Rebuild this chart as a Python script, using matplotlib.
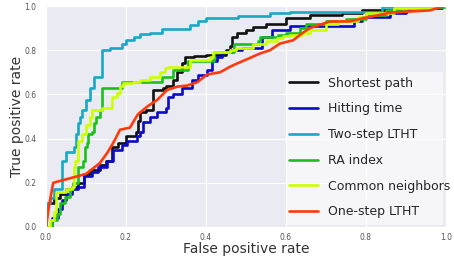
import matplotlib
matplotlib.use('Agg')
import matplotlib.pyplot as plt
import matplotlib.patches as mpatches
import seaborn as sns

# ROC curves: (false positive rate, true positive rate)
sp_fpr = [0, 0, 0.005, 0.02, 0.035, 0.05, 0.065, 0.08, 0.095, 0.11, 0.135, 0.15, 0.165, 0.18, 0.2,
          0.225, 0.23, 0.235, 0.25, 0.268, 0.293, 0.3, 0.318, 0.328, 0.34, 0.348, 0.37, 0.4, 0.45,
          0.46, 0.465, 0.478, 0.5, 0.518, 0.55, 0.6, 0.66, 0.74, 0.79, 0.88, 1.0]
sp_tpr = [0, 0.10, 0.11, 0.13, 0.15, 0.17, 0.18, 0.2, 0.24, 0.26, 0.28, 0.30, 0.36, 0.38, 0.41,
          0.43, 0.48, 0.52, 0.53, 0.62, 0.63, 0.64, 0.665, 0.70, 0.74, 0.77, 0.775, 0.78, 0.80,
          0.82, 0.86, 0.88, 0.89, 0.905, 0.92, 0.945, 0.96, 0.97, 0.98, 1.0, 1.0]

ht_fpr = [0, 0.015, 0.03, 0.04, 0.05, 0.065, 0.08, 0.095, 0.115, 0.13, 0.153, 0.168, 0.19, 0.203,
          0.228, 0.235, 0.243, 0.26, 0.278, 0.3, 0.305, 0.318, 0.34, 0.365, 0.38, 0.403, 0.415,
          0.428, 0.44, 0.465, 0.49, 0.54, 0.565, 0.61, 0.77, 0.79, 0.86, 0.9, 0.93, 0.99, 1.0]
ht_tpr = [0, 0.04, 0.08, 0.12, 0.15, 0.17, 0.18, 0.23, 0.25, 0.27, 0.30, 0.35, 0.37, 0.39,
          0.41, 0.43, 0.475, 0.50, 0.52, 0.54, 0.59, 0.60, 0.63, 0.665, 0.69, 0.71, 0.75,
          0.77, 0.79, 0.80, 0.81, 0.86, 0.89, 0.91, 0.93, 0.95, 0.97, 0.98, 0.99, 1.0, 1.0]

ts_fpr = [0, 0, 0.01, 0.02, 0.04, 0.05, 0.07, 0.075, 0.08, 0.085, 0.09, 0.10, 0.11, 0.12, 0.14,
          0.16, 0.19, 0.2, 0.22, 0.235, 0.26, 0.29, 0.36, 0.38, 0.40, 0.48, 0.56, 0.61, 0.84, 0.93, 1.0]
ts_tpr = [0, 0.11, 0.13, 0.17, 0.30, 0.34, 0.36, 0.42, 0.47, 0.50, 0.53, 0.575, 0.63, 0.68, 0.80,
          0.81, 0.83, 0.845, 0.86, 0.875, 0.88, 0.895, 0.915, 0.93, 0.945, 0.955, 0.968, 0.973,
          0.995, 1.0, 1.0]

ra_fpr = [0, 0.015, 0.028, 0.035, 0.048, 0.06, 0.068, 0.08, 0.092, 0.098, 0.102, 0.105, 0.115,
          0.12, 0.125, 0.135, 0.14, 0.19, 0.29, 0.318, 0.355, 0.42, 0.47, 0.53, 0.535, 0.58, 0.6,
          0.635, 0.65, 0.7, 0.75, 0.8, 0.85, 0.9, 1.0]
ra_tpr = [0, 0.03, 0.06, 0.11, 0.135, 0.17, 0.2, 0.27, 0.30, 0.36, 0.38, 0.42, 0.43,
          0.47, 0.50, 0.53, 0.63, 0.655, 0.68, 0.71, 0.75, 0.79, 0.83, 0.84, 0.86, 0.87, 0.88,
          0.90, 0.92, 0.93, 0.94, 0.96, 0.98, 0.995, 1.0]

cn_fpr = [0, 0.01, 0.02, 0.025, 0.05, 0.065, 0.07, 0.073, 0.08, 0.09, 0.1, 0.11, 0.115, 0.14,
          0.165, 0.178, 0.185, 0.193, 0.218, 0.235, 0.26, 0.285, 0.298, 0.305, 0.36, 0.41, 0.418,
          0.46, 0.475, 0.518, 0.55, 0.578, 0.593, 0.61, 0.64, 0.66, 0.7, 0.73, 0.78, 0.8, 0.87,
          0.97, 1.0]
cn_tpr = [0, 0.03, 0.07, 0.16, 0.17, 0.18, 0.27, 0.30, 0.39, 0.42, 0.46, 0.50, 0.53, 0.54,
          0.59, 0.605, 0.64, 0.65, 0.655, 0.665, 0.68, 0.70, 0.72, 0.725, 0.755, 0.77, 0.79,
          0.80, 0.81, 0.83, 0.84, 0.855, 0.865, 0.87, 0.88, 0.89, 0.92, 0.93, 0.95, 0.97, 0.99,
          1.0, 1.0]

os_fpr = [0, 0.008, 0.018, 0.1, 0.135, 0.153, 0.168, 0.185, 0.21, 0.223, 0.23, 0.253, 0.278,
          0.303, 0.328, 0.353, 0.378, 0.403, 0.435, 0.46, 0.478, 0.51, 0.535, 0.56, 0.585, 0.618,
          0.643, 0.66, 0.693, 0.71, 0.76, 0.793, 0.835, 0.86, 0.96, 0.985, 1.0]
os_tpr = [0, 0.1, 0.2, 0.24, 0.29, 0.335, 0.38, 0.44, 0.45, 0.49, 0.51, 0.545, 0.575,
          0.62, 0.635, 0.64, 0.655, 0.69, 0.70, 0.725, 0.74, 0.765, 0.785, 0.80, 0.83, 0.845,
          0.88, 0.90, 0.92, 0.93, 0.93, 0.945, 0.96, 0.97, 0.98, 0.995, 1.0]

sns.set_style('darkgrid')
plt.rcParams['font.family'] = ['DejaVu Sans']

fig = plt.figure(figsize=(4.54, 2.60), dpi=100)
ax = fig.add_axes([46 / 454, 1 - 227 / 260, 400 / 454, 221 / 260])

lw = 1.9
ax.plot(sp_fpr, sp_tpr, drawstyle='steps-post', color='#111111', lw=lw, label='Shortest path')
ax.plot(ht_fpr, ht_tpr, drawstyle='steps-post', color='#0a0ac8', lw=lw, label='Hitting time')
ax.plot(ts_fpr, ts_tpr, drawstyle='steps-post', color='#18a8c4', lw=lw, label='Two-step LTHT')
ax.plot(ra_fpr, ra_tpr, drawstyle='steps-post', color='#1cc01c', lw=lw, label='RA index')
ax.plot(cn_fpr, cn_tpr, drawstyle='steps-post', color='#ccff00', lw=lw, label='Common neighbors')
ax.plot(os_fpr, os_tpr, color='#ff3a0a', lw=lw, label='One-step LTHT')

ax.set_xlim(0, 1)
ax.set_ylim(0, 1)
ax.set_xticks([0, 0.2, 0.4, 0.6, 0.8, 1.0])
ax.set_yticks([0, 0.2, 0.4, 0.6, 0.8, 1.0])
ax.set_xticklabels(['0.0', '0.2', '0.4', '0.6', '0.8', '1.0'])
ax.set_yticklabels(['0.0', '0.2', '0.4', '0.6', '0.8', '1.0'])
ax.tick_params(axis='x', length=0, pad=4, labelsize=5.5, labelcolor='#555555')
ax.tick_params(axis='y', length=0, pad=7, labelsize=5.5, labelcolor='#555555')
ax.set_xlabel('False positive rate', fontsize=10, color='#333333', labelpad=0)
ax.set_ylabel('True positive rate', fontsize=10, color='#333333', labelpad=0)

# legend background box (text runs slightly past it, as in the original)
ax.add_patch(mpatches.Rectangle((0.6025, 0.01), 0.39, 0.69, transform=ax.transAxes,
                                facecolor='white', alpha=0.6, edgecolor='none', zorder=4))
leg = ax.legend(loc='lower right', bbox_to_anchor=(1.04, -0.015), fontsize=9,
                labelspacing=1.02, handlelength=2.3, handletextpad=0.8,
                frameon=False, borderpad=0.45)
for t in leg.get_texts():
    t.set_color('#262626')

fig.savefig('out.png', dpi=100)
